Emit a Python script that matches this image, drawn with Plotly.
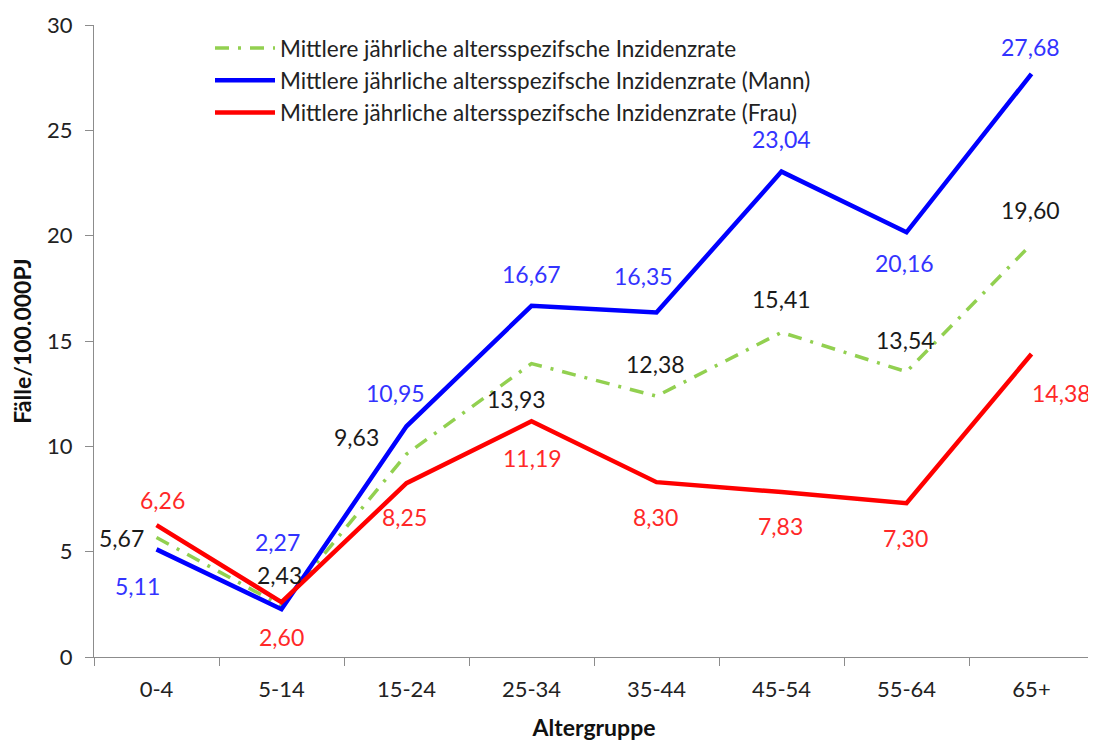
import plotly.graph_objects as go

categories = ["0-4", "5-14", "15-24", "25-34", "35-44", "45-54", "55-64", "65+"]
gesamt = [5.67, 2.43, 9.63, 13.93, 12.38, 15.41, 13.54, 19.60]
mann = [5.11, 2.27, 10.95, 16.67, 16.35, 23.04, 20.16, 27.68]
frau = [6.26, 2.60, 8.25, 11.19, 8.30, 7.83, 7.30, 14.38]

name_g = "Mittlere jährliche altersspezifsche Inzidenzrate"
name_m = "Mittlere jährliche altersspezifsche Inzidenzrate (Mann)"
name_f = "Mittlere jährliche altersspezifsche Inzidenzrate (Frau)"

# label offsets (pixels) per series
off_g = ([-35, -2, -50, -15, -1, 0, -1, -1], [0, 31, 17, -35, 32, 33, 32, 34])
off_m = ([-19, -4, -11, 0, -13, 0, -2, -1], [-37, 67, 33, 32, 37, 33, -31, 27])
off_f = ([6, 0, -2, 1, -1, -1, -1, 30], [25, -35, -34, -37, -35, -34, -35, -39])

FONT = "Lato, 'Open Sans', sans-serif"

fig = go.Figure()
fig.add_trace(go.Scatter(x=categories, y=gesamt, name=name_g, mode="lines",
                         line=dict(color="#92D050", width=3.5, dash="14px,9px,3px,9px")))
fig.add_trace(go.Scatter(x=categories, y=mann, name=name_m, mode="lines",
                         line=dict(color="#0000FF", width=4.5)))
fig.add_trace(go.Scatter(x=categories, y=frau, name=name_f, mode="lines",
                         line=dict(color="#FF0000", width=4.5)))

def fmt(v):
    return f"{v:.2f}".replace(".", ",")

anns = []
for vals, (dxs, dys), col in [(gesamt, off_g, "#1a1a1a"), (mann, off_m, "#3333FF"), (frau, off_f, "#FF2828")]:
    for c, v, dx, dy in zip(categories, vals, dxs, dys):
        anns.append(dict(x=c, y=v, xref="x", yref="y", text=fmt(v), showarrow=False,
                         xshift=dx, yshift=dy, font=dict(family=FONT, size=23, color=col)))

fig.update_layout(
    width=1088, height=734,
    margin=dict(l=86, r=2, t=17, b=85, autoexpand=False),
    paper_bgcolor="white", plot_bgcolor="white",
    font=dict(family=FONT, size=20, color="#222222"),
    showlegend=True,
    legend=dict(x=0.116, y=0.997, xanchor="left", yanchor="top",
                font=dict(family=FONT, size=22.5, color="#222222"),
                bgcolor="rgba(255,255,255,0)", tracegroupgap=0, itemwidth=60),
    annotations=anns,
    xaxis=dict(type="category", range=[-0.5, 7.5], showline=True, linecolor="#8c8c8c", linewidth=1.3,
               ticks="outside", tickson="boundaries", ticklen=8, tickcolor="#8c8c8c",
               showgrid=False, zeroline=False, automargin=False, ticklabelstandoff=12,
               tickfont=dict(family=FONT, size=22, color="#222222"),
               title=dict(text="<b>Altergruppe</b>", font=dict(family=FONT, size=23, color="#111111"), standoff=19)),
    yaxis=dict(range=[0, 30], dtick=5, showline=True, linecolor="#8c8c8c", linewidth=1.3,
               ticks="outside", ticklen=8, tickcolor="#8c8c8c",
               showgrid=False, zeroline=False, automargin=False, ticklabelstandoff=8,
               tickfont=dict(family=FONT, size=22, color="#222222"),
               title=dict(text="<b>Fälle/100.000PJ</b>", font=dict(family=FONT, size=23, color="#111111"), standoff=10)),
)

fig.write_html("out.html")
